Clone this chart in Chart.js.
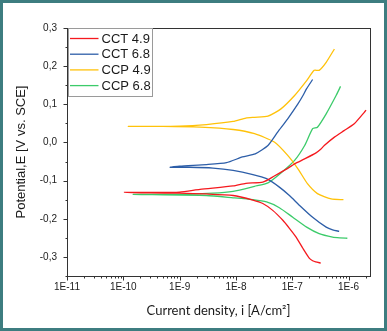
<!DOCTYPE html>
<html lang="en">
<head>
<meta charset="UTF-8">
<title>Polarization curves</title>
<script src="https://cdn.jsdelivr.net/npm/chart.js@4.4.1/dist/chart.umd.min.js"></script>
<style>
  html, body { margin: 0; padding: 0; background: #ffffff; }
  .wrap { position: relative; width: 387px; height: 331px; }
</style>
</head>
<body>
<div class="wrap"><canvas id="tafelChart" width="387" height="331"></canvas></div>
<script>
// values, cathodic end -> Ecorr -> anodic end
const cct49Current = [3.2e-7, 2.6e-7, 2.3e-7, 2.0e-7, 1.55e-7, 1.17e-7, 8.9e-8, 6.8e-8, 4.5e-8, 3.0e-8, 2.0e-8, 8.9e-9, 3.0e-9, 1.0e-9, 3.0e-10, 1.05e-10,
  3.0e-10, 1.0e-9, 2.3e-9, 8.9e-9, 1.5e-8, 3.0e-8, 4.8e-8, 8.3e-8, 1.1e-7, 1.66e-7, 2.6e-7, 3.2e-7, 3.7e-7, 5.6e-7, 8.3e-7, 1.26e-6, 1.9e-6, 2.04e-6];
const cct49Potential = [-0.316, -0.313, -0.310, -0.303, -0.278, -0.248, -0.225, -0.204, -0.178, -0.160, -0.151, -0.139, -0.135, -0.133, -0.132, -0.131,
  -0.131, -0.130, -0.123, -0.114, -0.107, -0.104, -0.088, -0.068, -0.056, -0.043, -0.028, -0.018, -0.008, 0.014, 0.031, 0.049, 0.079, 0.085];

const cct68Current = [6.8e-7, 5.2e-7, 4.0e-7, 2.3e-7, 1.35e-7, 8.9e-8, 5.9e-8, 3.5e-8, 2.0e-8, 8.9e-9, 3.9e-9, 1.5e-9, 6.8e-10,
  1.0e-9, 3.0e-9, 6.8e-9, 1.3e-8, 2.2e-8, 3.7e-8, 5.5e-8, 8.3e-8, 1.26e-7, 1.55e-7, 1.8e-7, 2.3e-7];
const cct68Potential = [-0.233, -0.229, -0.222, -0.196, -0.165, -0.139, -0.117, -0.095, -0.084, -0.073, -0.067, -0.065, -0.065,
  -0.062, -0.058, -0.053, -0.038, -0.030, -0.008, 0.027, 0.062, 0.101, 0.123, 0.141, 0.165];

const ccp49Current = [8.1e-7, 4.9e-7, 2.8e-7, 1.86e-7, 1.26e-7, 8.3e-8, 4.8e-8, 2.14e-8, 8.9e-9, 2.3e-9, 5.0e-10, 1.23e-10,
  1.0e-9, 3.0e-9, 8.9e-9, 1.5e-8, 2.14e-8, 3.7e-8, 6.3e-8, 1.1e-7, 1.8e-7, 2.45e-7, 3.0e-7, 4.0e-7, 5.6e-7];
const ccp49Potential = [-0.150, -0.148, -0.134, -0.108, -0.069, -0.034, 0.001, 0.023, 0.034, 0.040, 0.042, 0.042,
  0.043, 0.047, 0.055, 0.064, 0.066, 0.069, 0.088, 0.123, 0.162, 0.189, 0.189, 0.210, 0.245];

const ccp68Current = [9.5e-7, 7.0e-7, 5.2e-7, 3.0e-7, 1.8e-7, 1.02e-7, 5.9e-8, 3.5e-8, 2.0e-8, 8.9e-9, 3.0e-9, 1.5e-10,
  1.0e-9, 3.9e-9, 8.9e-9, 2.14e-8, 3.7e-8, 6.3e-8, 1.1e-7, 1.66e-7, 2.3e-7, 2.8e-7, 4.0e-7, 6.0e-7, 7.2e-7];
const ccp68Potential = [-0.251, -0.250, -0.248, -0.239, -0.222, -0.196, -0.171, -0.156, -0.150, -0.145, -0.139, -0.136,
  -0.136, -0.133, -0.128, -0.115, -0.106, -0.080, -0.047, -0.008, 0.036, 0.040, 0.075, 0.123, 0.147];

const seriesNames = ['CCT 4.9', 'CCT 6.8', 'CCP 4.9', 'CCP 6.8'];
const xTickValues = [1e-11, 1e-10, 1e-9, 1e-8, 1e-7, 1e-6];
const yTickValues = [-0.3, -0.2, -0.1, 0.0, 0.1, 0.2, 0.3];

const colors = ['#f5191e', '#2d5ea8', '#ffc20a', '#3ccb6a'];

function toPoints(cur, pot) {
  return cur.map((c, i) => ({ x: c, y: pot[i] }));
}

const curves = [
  toPoints(cct49Current, cct49Potential),
  toPoints(cct68Current, cct68Potential),
  toPoints(ccp49Current, ccp49Potential),
  toPoints(ccp68Current, ccp68Potential)
];

// frame, outward tick marks, boxed legend and the teal border
const framePlugin = {
  id: 'frame',
  beforeDraw(chart) {
    const ctx = chart.ctx;
    ctx.save();
    ctx.fillStyle = '#ffffff';
    ctx.fillRect(0, 0, chart.width, chart.height);
    ctx.restore();
  },
  afterDraw(chart) {
    const ctx = chart.ctx;
    const a = chart.chartArea;
    const xs = chart.scales.x;
    const ys = chart.scales.y;
    ctx.save();
    ctx.strokeStyle = '#333333';
    ctx.lineWidth = 1;
    ctx.strokeRect(Math.round(a.left) + 0.5, Math.round(a.top) + 0.5,
      Math.round(a.right - a.left), Math.round(a.bottom - a.top));

    ctx.beginPath();
    const by = Math.round(a.bottom) + 0.5;
    for (let e = -11; e <= -6; e++) {
      for (let k = 1; k <= 9; k++) {
        const v = k * Math.pow(10, e);
        if (v > xs.max) break;
        const px = Math.round(xs.getPixelForValue(v)) + 0.5;
        ctx.moveTo(px, by);
        ctx.lineTo(px, by + (k === 1 ? 4 : 2));
      }
    }
    const lx = Math.round(a.left) + 0.5;
    for (let t = -0.35; t <= 0.301; t += 0.05) {
      const py = Math.round(ys.getPixelForValue(t)) + 0.5;
      const major = Math.abs(Math.round(t * 10) - t * 10) < 0.01;
      ctx.moveTo(lx, py);
      ctx.lineTo(lx - (major ? 4 : 2), py);
    }
    ctx.stroke();

    // legend box
    const bx = Math.round(a.left) + 1.5, bt = Math.round(a.top) + 0.5;
    ctx.strokeStyle = '#9a9a9a';
    ctx.strokeRect(bx, bt, 84, 68);
    ctx.font = '13px "Liberation Sans", Arial, sans-serif';
    ctx.textBaseline = 'middle';
    chart.data.datasets.forEach((ds, i) => {
      const y = bt + 10 + i * 15.7;
      ctx.strokeStyle = ds.borderColor;
      ctx.lineWidth = 1.3;
      ctx.beginPath();
      ctx.moveTo(bx + 1.5, y);
      ctx.lineTo(bx + 30, y);
      ctx.stroke();
      ctx.fillStyle = '#1a1a1a';
      ctx.fillText(ds.label, bx + 33, y + 0.5);
    });

    ctx.strokeStyle = '#3d7d80';
    ctx.lineWidth = 3;
    ctx.strokeRect(1.5, 1.5, chart.width - 3, chart.height - 3);
    ctx.restore();
  }
};

new Chart(document.getElementById('tafelChart'), {
  type: 'scatter',
  data: {
    datasets: curves.map((pts, i) => ({
      label: seriesNames[i],
      data: pts,
      showLine: true,
      borderColor: colors[i],
      backgroundColor: colors[i],
      borderWidth: 1.3,
      pointRadius: 0,
      tension: 0.2
    }))
  },
  options: {
    responsive: false,
    animation: false,
    layout: { padding: { top: 28, right: 17, left: 0, bottom: 0 } },
    plugins: {
      legend: { display: false },
      tooltip: { enabled: false }
    },
    scales: {
      x: {
        type: 'logarithmic',
        min: 1e-11,
        max: 2.4e-6,
        grid: { display: false, drawTicks: false },
        border: { display: false },
        afterFit(scale) { scale.height = 55; },
        afterBuildTicks(scale) { scale.ticks = xTickValues.map(v => ({ value: v })); },
        ticks: {
          autoSkip: false,
          maxRotation: 0,
          padding: 5,
          color: '#222222',
          font: { family: '"Liberation Sans", Arial, sans-serif', size: 10 },
          callback: v => '1E' + Math.round(Math.log10(v))
        },
        title: {
          display: true,
          text: 'Current density, i [A/cm²]',
          color: '#1a1a1a',
          font: { family: 'Lato, sans-serif', size: 13 },
          padding: { top: 0, bottom: 12 }
        }
      },
      y: {
        min: -0.35,
        max: 0.3,
        grid: { display: false, drawTicks: false },
        border: { display: false },
        afterFit(scale) { scale.width = 67; },
        afterBuildTicks(scale) { scale.ticks = yTickValues.map(v => ({ value: v })); },
        ticks: {
          padding: 10,
          color: '#222222',
          font: { family: '"Liberation Sans", Arial, sans-serif', size: 10 },
          callback: v => v.toFixed(1).replace('.', ',')
        },
        title: {
          display: true,
          text: 'Potential,E [V vs. SCE]',
          color: '#1a1a1a',
          font: { family: '"Liberation Sans", Arial, sans-serif', size: 13 },
          padding: { top: 14, bottom: 0 }
        }
      }
    }
  },
  plugins: [framePlugin]
});
</script>
</body>
</html>
